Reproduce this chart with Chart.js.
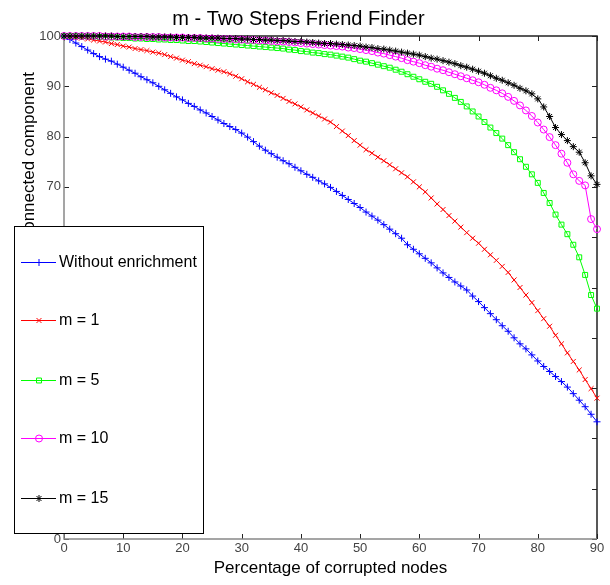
<!DOCTYPE html>
<html>
<head>
<meta charset="utf-8">
<script src="https://cdn.jsdelivr.net/npm/chart.js@4.4.0/dist/chart.umd.min.js"></script>
<style>
  html, body { margin: 0; padding: 0; background: #fff; }
  #wrap { width: 610px; height: 585px; }
</style>
</head>
<body>
<div id="wrap"><canvas id="chart" width="610" height="585"></canvas></div>
<script>
// x values: percentage of corrupted nodes
const percent = [0,1,2,3,4,5,6,7,8,9,10,11,12,13,14,15,16,17,18,19,20,21,22,23,24,25,26,27,28,29,30,
  31,32,33,34,35,36,37,38,39,40,41,42,43,44,45,46,47,48,49,50,51,52,53,54,55,56,57,58,59,60,
  61,62,63,64,65,66,67,68,69,70,71,72,73,74,75,76,77,78,79,80,81,82,83,84,85,86,87,88,89,90];

const withoutEnrichment = [100,99.3,98.6,97.9,97.2,96.5,95.9,95.4,95.0,94.4,93.8,93.2,92.6,91.9,91.3,90.7,90.0,89.3,88.6,87.9,
  87.3,86.6,86.0,85.3,84.7,84.0,83.3,82.6,82.0,81.4,80.7,79.9,79.0,78.1,77.3,76.6,75.9,75.2,74.6,73.9,
  73.2,72.5,71.9,71.2,70.6,69.9,69.1,68.3,67.5,66.7,65.9,65.0,64.2,63.4,62.5,61.6,60.7,59.8,58.5,57.6,
  56.7,55.8,54.9,53.9,52.9,52.0,51.1,50.3,49.5,48.3,47.2,46.0,44.8,43.6,42.4,41.3,40.0,38.8,37.8,36.6,
  35.4,34.3,33.3,32.3,31.3,30.2,28.9,27.6,26.3,24.8,23.3];

const m1 = [100,99.9,99.7,99.6,99.4,99.2,99.0,98.8,98.5,98.3,98.0,97.8,97.5,97.3,97.1,96.8,96.6,96.3,95.9,95.6,
  95.2,94.9,94.5,94.2,93.9,93.5,93.2,92.9,92.5,92.0,91.5,90.9,90.4,89.8,89.3,88.7,88.2,87.6,87.0,86.5,
  85.9,85.3,84.7,84.1,83.5,82.9,82.0,81.1,80.2,79.2,78.3,77.4,76.7,75.9,75.2,74.4,73.6,72.8,72.0,71.0,
  70.0,69.0,67.8,66.6,65.5,64.3,63.2,62.0,60.9,59.8,58.8,57.6,56.5,55.4,54.2,53.0,51.5,50.0,48.5,47.0,
  45.4,43.8,42.3,40.5,38.8,37.0,35.3,33.6,31.7,29.9,28.0];

const m5 = [100,100,100,99.9,99.9,99.9,99.8,99.8,99.7,99.7,99.6,99.6,99.5,99.5,99.4,99.4,99.3,99.3,99.2,99.2,
  99.1,99.0,99.0,98.9,98.8,98.7,98.6,98.5,98.4,98.3,98.2,98.1,98.0,97.9,97.8,97.7,97.6,97.5,97.3,97.2,
  97.0,96.9,96.7,96.6,96.4,96.3,96.1,95.9,95.7,95.4,95.1,94.9,94.6,94.3,94.0,93.7,93.3,92.9,92.4,91.9,
  91.4,90.9,90.5,89.9,89.2,88.5,87.7,86.9,86.0,85.0,84.0,82.9,81.8,80.7,79.6,78.3,76.9,75.5,74.0,72.5,
  70.8,68.8,66.8,64.5,62.5,60.6,58.5,56.0,52.5,48.5,45.8];

const m10 = [100,100,100,100,100,100,100,99.9,99.9,99.9,99.9,99.9,99.8,99.8,99.8,99.8,99.8,99.7,99.7,99.7,
  99.7,99.6,99.6,99.6,99.5,99.5,99.4,99.4,99.4,99.3,99.3,99.2,99.2,99.1,99.1,99.0,98.9,98.9,98.8,98.7,
  98.6,98.5,98.4,98.3,98.2,98.1,98.0,97.9,97.7,97.6,97.4,97.2,97.0,96.7,96.5,96.2,95.9,95.6,95.2,94.9,
  94.6,94.2,93.9,93.5,93.2,92.8,92.4,92.0,91.6,91.2,90.8,90.3,89.7,89.2,88.6,87.9,87.1,86.2,85.2,84.1,
  82.8,81.4,79.9,78.3,76.6,74.8,72.5,71.2,70.3,63.6,61.6];

const m15 = [100,100,100,100,100,100,100,100,100,99.9,99.9,99.9,99.9,99.9,99.9,99.8,99.8,99.8,99.8,99.7,
  99.7,99.7,99.7,99.6,99.6,99.6,99.6,99.5,99.5,99.5,99.4,99.4,99.3,99.3,99.2,99.2,99.1,99.1,99.0,98.9,
  98.9,98.8,98.7,98.6,98.5,98.5,98.4,98.3,98.2,98.1,98.0,97.8,97.7,97.5,97.4,97.2,97.0,96.8,96.6,96.4,
  96.2,95.9,95.6,95.4,95.1,94.8,94.5,94.1,93.8,93.4,93.0,92.6,92.1,91.6,91.2,90.7,90.2,89.6,89.1,88.5,
  87.5,85.9,84.0,81.8,80.4,79.2,78.0,76.9,74.8,72.2,70.5];

const seriesNames = ['Without enrichment', 'm = 1', 'm = 5', 'm = 10', 'm = 15'];
const seriesValues = [withoutEnrichment, m1, m5, m10, m15];
const seriesColors = ['#0000ff', '#ff0000', '#00ff00', '#ff00ff', '#000000'];
const seriesMarkers = ['cross', 'crossRot', 'rect', 'circle', 'star'];

const xTicks = [0, 10, 20, 30, 40, 50, 60, 70, 80, 90];
const yTicks = [0, 10, 20, 30, 40, 50, 60, 70, 80, 90, 100];

const FONT = "'Liberation Sans', Arial, Helvetica, sans-serif";
const TICK_FONT = "'Liberation Sans Narrow', 'Liberation Sans', Arial, sans-serif";

const datasets = seriesNames.map((name, i) => ({
  label: name,
  data: seriesValues[i].map((v, k) => ({ x: percent[k], y: v })),
  borderColor: seriesColors[i],
  backgroundColor: 'rgba(0,0,0,0)',
  pointBorderColor: seriesColors[i],
  pointBackgroundColor: 'rgba(0,0,0,0)',
  pointStyle: seriesMarkers[i],
  pointRadius: 3.5,
  pointBorderWidth: 1,
  borderWidth: 1,
  tension: 0,
  order: seriesNames.length - i,
  clip: 10
}));

// box around the axes with inward ticks, matlab style
const framePlugin = {
  id: 'frame',
  beforeDatasetsDraw(chart) {
    const { ctx, chartArea: a, scales } = chart;
    ctx.save();
    ctx.lineWidth = 1;
    ctx.strokeStyle = '#222';
    xTicks.forEach(t => {
      const px = Math.round(scales.x.getPixelForValue(t)) + 0.5;
      ctx.beginPath();
      ctx.moveTo(px, a.bottom); ctx.lineTo(px, a.bottom - 5);
      ctx.moveTo(px, a.top); ctx.lineTo(px, a.top + 5);
      ctx.stroke();
    });
    yTicks.forEach(t => {
      const py = Math.round(scales.y.getPixelForValue(t)) + 0.5;
      ctx.beginPath();
      ctx.moveTo(a.left, py); ctx.lineTo(a.left + 5, py);
      ctx.moveTo(a.right, py); ctx.lineTo(a.right - 5, py);
      ctx.stroke();
    });
    ctx.lineWidth = 1.5;
    ctx.strokeStyle = '#222';
    ctx.beginPath();
    ctx.moveTo(a.left, a.top); ctx.lineTo(a.right, a.top); ctx.lineTo(a.right, a.bottom);
    ctx.stroke();
    ctx.strokeStyle = '#888';
    ctx.beginPath();
    ctx.moveTo(a.left, a.top); ctx.lineTo(a.left, a.bottom); ctx.lineTo(a.right, a.bottom);
    ctx.stroke();
    ctx.restore();
  }
};

// legend box drawn over the lower left part of the plot
const legendBox = { left: 14, top: 226, width: 189, height: 307 };
const legendPlugin = {
  id: 'boxLegend',
  afterDraw(chart) {
    const ctx = chart.ctx;
    const b = legendBox;
    ctx.save();
    ctx.fillStyle = '#fff';
    ctx.fillRect(b.left, b.top, b.width, b.height);
    ctx.strokeStyle = '#000';
    ctx.lineWidth = 1;
    ctx.strokeRect(b.left + 0.5, b.top + 0.5, b.width, b.height);
    const rows = [262, 320, 380, 438, 498];
    ctx.font = '16px ' + FONT;
    ctx.textBaseline = 'middle';
    ctx.textAlign = 'left';
    seriesNames.forEach((name, i) => {
      const y = rows[i] + 0.5;
      ctx.strokeStyle = seriesColors[i];
      ctx.lineWidth = 1;
      ctx.beginPath();
      ctx.moveTo(21, y); ctx.lineTo(56, y);
      ctx.stroke();
      if (Chart.helpers && Chart.helpers.drawPoint) {
        ctx.fillStyle = 'rgba(0,0,0,0)';
        Chart.helpers.drawPoint(ctx, { pointStyle: seriesMarkers[i], radius: 3.5, borderWidth: 1, rotation: 0 }, 39, y);
      }
      ctx.fillStyle = '#000';
      ctx.fillText(name, 59, y);
    });
    ctx.restore();
  }
};

new Chart(document.getElementById('chart').getContext('2d'), {
  type: 'line',
  data: { datasets },
  options: {
    responsive: false,
    animation: false,
    devicePixelRatio: 1,
    layout: { padding: { left: 0, right: 13, top: 0, bottom: 0 } },
    plugins: {
      legend: { display: false },
      tooltip: { enabled: false },
      title: {
        display: true,
        text: 'm - Two Steps Friend Finder',
        color: '#000',
        font: { family: FONT, size: 20, weight: 'normal' },
        padding: { top: 7, bottom: 5 }
      }
    },
    scales: {
      x: {
        type: 'linear',
        min: 0, max: 90,
        afterBuildTicks(scale) { scale.ticks = xTicks.map(v => ({ value: v })); },
        afterFit(scale) { scale.height = 46; },
        grid: { display: false, drawTicks: false },
        border: { display: false },
        ticks: { padding: 2, color: '#444', font: { family: TICK_FONT, size: 13 }, maxRotation: 0 },
        title: {
          display: true,
          text: 'Percentage of corrupted nodes',
          color: '#000',
          font: { family: FONT, size: 17 },
          padding: { top: 0, bottom: 6 }
        }
      },
      y: {
        min: 0, max: 100,
        afterBuildTicks(scale) { scale.ticks = yTicks.map(v => ({ value: v })); },
        afterFit(scale) { scale.width = 64; },
        grid: { display: false, drawTicks: false },
        border: { display: false },
        ticks: { padding: 3, color: '#444', font: { family: TICK_FONT, size: 13 } },
        title: {
          display: true,
          text: 'Percentage of nodes in the largest connected component',
          color: '#000',
          font: { family: FONT, size: 17 },
          padding: { top: 19, bottom: 0 }
        }
      }
    }
  },
  plugins: [framePlugin, legendPlugin]
});
</script>
</body>
</html>
